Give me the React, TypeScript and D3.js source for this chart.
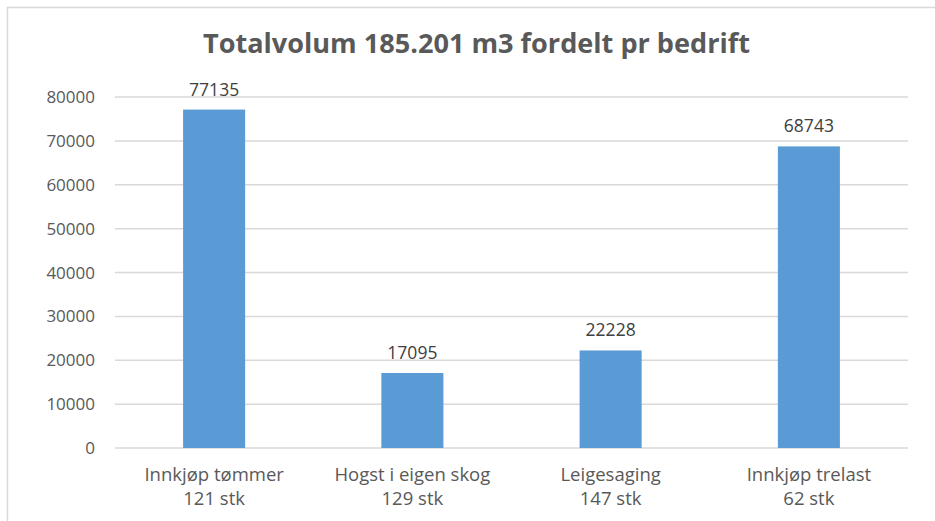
import React from "react";
import * as d3 from "d3";

const categories = ["Innkjøp tømmer", "Hogst i eigen skog", "Leigesaging", "Innkjøp trelast"];
const counts = ["121 stk", "129 stk", "147 stk", "62 stk"];
const values = [77135, 17095, 22228, 68743];
const yTicks = [0, 10000, 20000, 30000, 40000, 50000, 60000, 70000, 80000];
const title = "Totalvolum 185.201 m3 fordelt pr bedrift";

export default function App() {
  const W = 935, H = 521;
  const left = 115, right = 908, top = 97, bottom = 448;
  const x = d3.scaleBand<string>().domain(categories).range([left, right]).paddingInner(0.687).paddingOuter(0.3435);
  const y = d3.scaleLinear().domain([0, 80000]).range([bottom, top]);
  const font = "'Open Sans', 'Liberation Sans', sans-serif";
  return (
    <svg width={W} height={H} style={{ position: "absolute", left: 0, top: 0 }}>
      <rect x={0} y={0} width={W} height={H} fill="#fff" />
      <rect x={7.5} y={7.5} width={W + 20} height={H + 20} fill="none" stroke="#d9d9d9" strokeWidth={1.5} />
      <text x={476.5} y={53} textAnchor="middle" fontFamily={font} fontWeight="bold" fontSize={26} fill="#595959" textLength={547} lengthAdjust="spacingAndGlyphs">{title}</text>
      {yTicks.map((t) => (
        <g key={t}>
          <line x1={left} x2={right} y1={y(t)} y2={y(t)} stroke="#d9d9d9" strokeWidth={1.5} />
          <text x={95} y={y(t) + 6} textAnchor="end" fontFamily={font} fontSize={17} fill="#595959">{t}</text>
        </g>
      ))}
      {categories.map((c, i) => {
        const bx = x(c)!;
        const bw = x.bandwidth();
        const cx = bx + bw / 2;
        return (
          <g key={c}>
            <rect x={bx} y={y(values[i])} width={bw} height={bottom - y(values[i])} fill="#5b9bd5" />
            <text x={cx} y={y(values[i]) - 14} textAnchor="middle" fontFamily={font} fontSize={17.5} fill="#404040">{values[i]}</text>
            <text x={cx} y={481} textAnchor="middle" fontFamily={font} fontSize={18.5} fill="#595959">{c}</text>
            <text x={cx} y={505} textAnchor="middle" fontFamily={font} fontSize={18.5} fill="#595959">{counts[i]}</text>
          </g>
        );
      })}
    </svg>
  );
}
